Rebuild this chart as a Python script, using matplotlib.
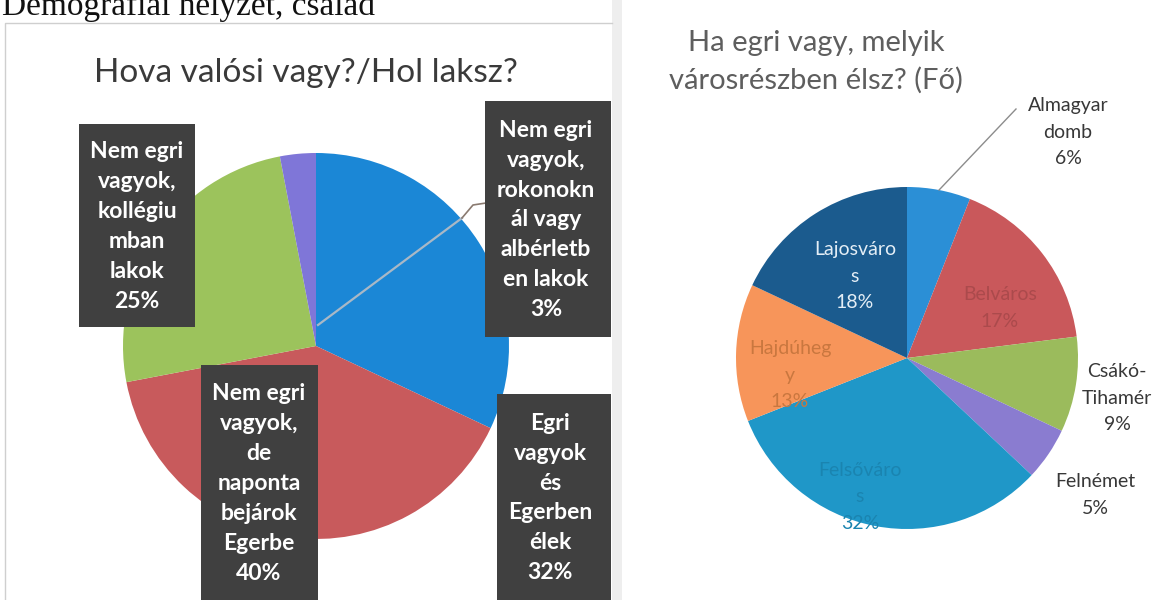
import numpy as np
import matplotlib
matplotlib.use('Agg')
import matplotlib.pyplot as plt
from matplotlib.patches import Rectangle

plt.rcParams['font.family'] = ['Lato', 'DejaVu Sans']

W, H = 1163, 600

# left chart: Hova valósi vagy?/Hol laksz?
left_names = ['Egri\nvagyok\nés\nEgerben\nélek',
              'Nem egri\nvagyok,\nde\nnaponta\nbejárok\nEgerbe',
              'Nem egri\nvagyok,\nkollégiu\nmban\nlakok',
              'Nem egri\nvagyok,\nrokonokn\nál vagy\nalbérletb\nen lakok']
left_values = [32, 40, 25, 3]
left_colors = ['#1b87d6', '#c85a5c', '#9cc35c', '#7f76d8']

# right chart: Ha egri vagy, melyik városrészben élsz? (Fő)
right_names = ['Almagyar\ndomb', 'Belváros', 'Csákó-\nTihamér', 'Felnémet',
               'Felsőváro\ns', 'Hajdúheg\ny', 'Lajosváro\ns']
right_values = [6, 17, 9, 5, 32, 13, 18]
right_colors = ['#2b8fd6', '#c9585b', '#9bbb5c', '#8a7cd0',
                '#1f97c8', '#f7955a', '#1b5b8e']


def py(y):
    return H - y


fig = plt.figure(figsize=(W / 100, H / 100), dpi=100)
ax = fig.add_axes([0, 0, 1, 1])

# page header (cut at the top of the scan, as in the original)
ax.text(2, py(15), 'Demográfiai helyzet, család', family='Liberation Serif',
        fontsize=24, color='#111111', ha='left', va='baseline')

# frame of the left chart and scan shadow
ax.plot([5, 5, 612], [py(600), py(23), py(23)], color='#cfcfcf', lw=1)
ax.add_patch(Rectangle((612, 0), 10, H, color='#eeeeee', lw=0))

# ---- left pie ----
lc = (316, py(346))
ax.pie(left_values, colors=left_colors, startangle=90, counterclock=False,
       center=lc, radius=193, wedgeprops=dict(linewidth=0), frame=True)

ax.text(306, py(73), 'Hova valósi vagy?/Hol laksz?', fontsize=24,
        color='#3a3a3a', ha='center', va='center')

# leader line of the 3% label
ax.plot([318, 462], [py(325), py(218)], color='#a9b8c6', lw=1.6)
ax.plot([462, 473, 486], [py(218), py(205), py(203)], color='#8a7a70', lw=1.2)

# label boxes: x0, y0, x1, y1, text x
left_boxes = [(497, 394, 611, 600, 550),
              (201, 365, 318, 600, 259),
              (79, 124, 195, 327, 137),
              (485, 101, 611, 337, 546)]
for (x0, y0, x1, y1, tx), name, v in zip(left_boxes, left_names, left_values):
    ax.add_patch(Rectangle((x0, py(y1)), x1 - x0, y1 - y0, color='#404040', lw=0, zorder=3))
    ax.text(tx, py((y0 + y1) / 2 + 1), f'{name}\n{v}%', fontsize=16.5, fontweight='bold',
            color='white', ha='center', va='center', linespacing=1.52, zorder=4)

# ---- right pie ----
rc = (907, py(358))
rr = 171
wedges, _ = ax.pie(right_values, colors=right_colors, startangle=90, counterclock=False,
                   center=rc, radius=rr, wedgeprops=dict(linewidth=0), frame=True)

ax.text(816, py(62), 'Ha egri vagy, melyik\nvárosrészben élsz? (Fő)', fontsize=21,
        color='#5e5e5e', ha='center', va='center', linespacing=1.5)

# label positions and text colours
right_pos = [(1068, 132), (1000, 308), (1117, 398), (1095, 495),
             (860, 497), (790, 375), (855, 276)]
right_tcol = ['#383838', '#ab4a4c', '#383838', '#383838',
              '#1a84b0', '#c9773f', '#e4eef6']
for (x, y), name, v, c in zip(right_pos, right_names, right_values, right_tcol):
    ax.text(x, py(y), f'{name}\n{v}%', fontsize=14, color=c, ha='center', va='center',
            linespacing=1.65)

# leader for Almagyar domb
w0 = wedges[0]
mid = np.deg2rad((w0.theta1 + w0.theta2) / 2)
sx, sy = rc[0] + rr * np.cos(mid), rc[1] + rr * np.sin(mid)
ax.plot([sx, 1016], [sy, py(109)], color='#8c8c8c', lw=1)

ax.set_xlim(0, W)
ax.set_ylim(0, H)
ax.set_aspect('equal')
ax.axis('off')

fig.savefig('out.png', dpi=100, facecolor='white')
